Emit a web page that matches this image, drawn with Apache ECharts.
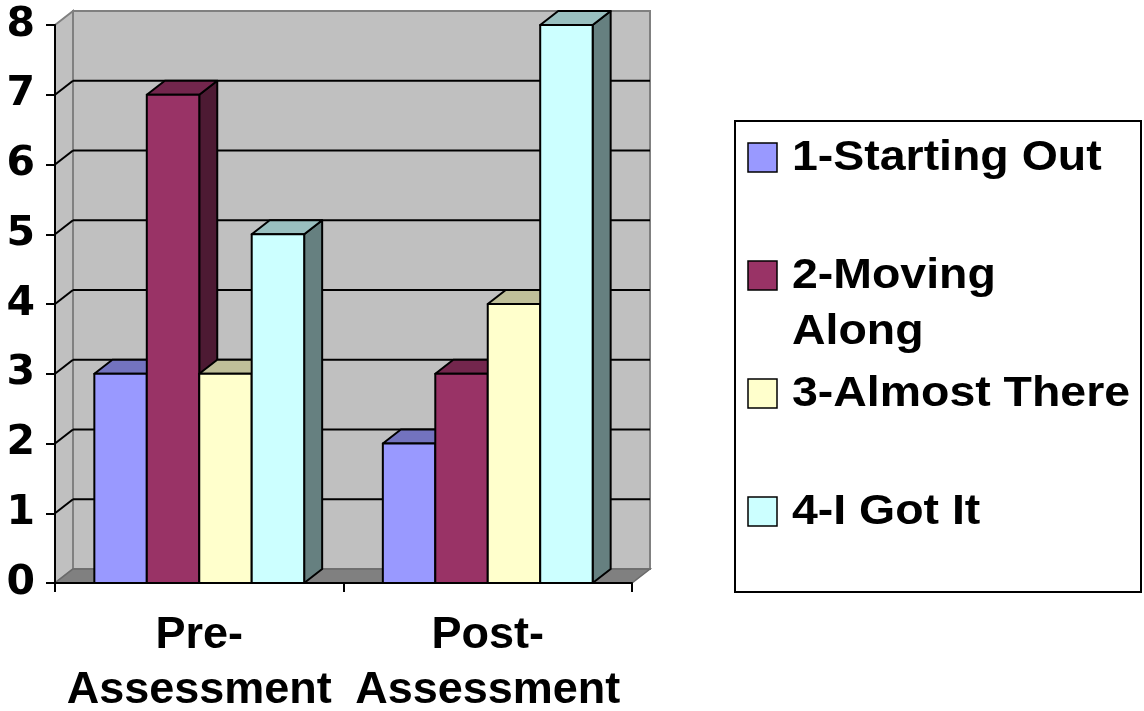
<!DOCTYPE html>
<html>
<head>
<meta charset="utf-8">
<script src="https://cdn.jsdelivr.net/npm/echarts@6/dist/echarts.min.js"></script>
<style>
html,body{margin:0;padding:0;background:#fff;}
#chart{width:1144px;height:711px;}
</style>
</head>
<body>
<div id="chart"></div>
<script>
const categories = ['Pre-\nAssessment', 'Post-\nAssessment'];
const seriesNames = ['1-Starting Out', '2-Moving\nAlong', '3-Almost There', '4-I Got It'];
const startingOut = [3, 2];
const movingAlong = [7, 3];
const almostThere = [3, 4];
const iGotIt = [5, 8];
const yTicks = [0, 1, 2, 3, 4, 5, 6, 7, 8];
const colors = ['#9999ff', '#993366', '#ffffcc', '#ccffff'];

const seriesValues = [startingOut, movingAlong, almostThere, iGotIt];
const DX = 18, DY = -14;
const GAP = 1.5;

function shade(hex, f) {
  const n = parseInt(hex.slice(1), 16);
  const r = Math.round(((n >> 16) & 255) * f);
  const g = Math.round(((n >> 8) & 255) * f);
  const b = Math.round((n & 255) * f);
  return 'rgb(' + r + ',' + g + ',' + b + ')';
}

const chart = echarts.init(document.getElementById('chart'), null, {renderer: 'canvas'});

const bgSeries = {
  type: 'custom',
  name: 'walls',
  silent: true,
  z: 1,
  data: [[0, 0]],
  renderItem: function (params, api) {
    const cs = params.coordSys;
    const x = cs.x, y = cs.y, w = cs.width, h = cs.height;
    const children = [];
    children.push({type: 'rect', shape: {x: x + DX, y: y + DY, width: w, height: h},
      style: {fill: '#c0c0c0', stroke: '#808080', lineWidth: 2}});
    children.push({type: 'polygon', shape: {points: [[x, y], [x + DX, y + DY], [x + DX, y + h + DY], [x, y + h]]},
      style: {fill: '#c0c0c0', stroke: '#808080', lineWidth: 2}});
    children.push({type: 'polygon', shape: {points: [[x, y + h], [x + w, y + h], [x + w + DX, y + h + DY], [x + DX, y + h + DY]]},
      style: {fill: '#808080', stroke: '#6a6a6a', lineWidth: 1.5}});
    for (let k = 1; k < yTicks.length - 1; k++) {
      const yy = api.coord([0, yTicks[k]])[1];
      children.push({type: 'line', shape: {x1: x + DX, y1: yy + DY, x2: x + w + DX, y2: yy + DY},
        style: {stroke: '#000', lineWidth: 2}});
      children.push({type: 'line', shape: {x1: x, y1: yy, x2: x + DX, y2: yy + DY},
        style: {stroke: '#000', lineWidth: 2}});
    }
    return {type: 'group', children: children};
  }
};

const barSeries = seriesValues.map(function (vals, i) {
  return {
    type: 'custom',
    name: seriesNames[i],
    z: 2,
    data: vals.map(function (v, j) { return [j, v]; }),
    renderItem: function (params, api) {
      const top = api.coord([api.value(0), api.value(1)]);
      const base = api.coord([api.value(0), 0]);
      const catW = api.size([1, 0])[0];
      const n = seriesValues.length;
      const bw = catW / (n + GAP);
      const left = top[0] - n * bw / 2 + i * bw;
      const t = top[1], b = base[1];
      const st = {stroke: '#000', lineWidth: 2, lineJoin: 'round'};
      return {type: 'group', children: [
        {type: 'polygon', shape: {points: [[left + bw, t], [left + bw + DX, t + DY], [left + bw + DX, b + DY], [left + bw, b]]},
          style: Object.assign({fill: shade(colors[i], 0.5)}, st)},
        {type: 'polygon', shape: {points: [[left, t], [left + DX, t + DY], [left + bw + DX, t + DY], [left + bw, t]]},
          style: Object.assign({fill: shade(colors[i], 0.75)}, st)},
        {type: 'rect', shape: {x: left, y: t, width: bw, height: b - t},
          style: Object.assign({fill: colors[i]}, st)}
      ]};
    }
  };
});

// legend built as graphics
const legendBox = {left: 735, top: 121, width: 406, height: 471};
const legendRows = [158, 276, 394, 512];
const legendGraphics = [{
  type: 'rect', shape: {x: legendBox.left, y: legendBox.top, width: legendBox.width, height: legendBox.height},
  style: {fill: '#fff', stroke: '#000', lineWidth: 2}, z: 100
}];
seriesNames.forEach(function (name, i) {
  const cy = legendRows[i];
  legendGraphics.push({type: 'rect', shape: {x: 748, y: cy - 15, width: 29, height: 29},
    style: {fill: colors[i], stroke: '#000', lineWidth: 1.5}, z: 101});
  name.split('\n').forEach(function (line, li) {
    legendGraphics.push({type: 'text', x: 792, y: cy + li * 56, scaleX: 1.08, z: 101,
      style: {text: line, fill: '#000', font: 'bold 43px "Liberation Sans", Arial, sans-serif',
        verticalAlign: 'middle', align: 'left'}});
  });
});

chart.setOption({
  animation: false,
  backgroundColor: '#fff',
  grid: {left: 55, right: 512, top: 25, bottom: 128, containLabel: false, outerBoundsMode: 'none'},
  xAxis: {
    type: 'category', data: categories, z: 10,
    axisLine: {show: true, lineStyle: {color: '#000', width: 2}},
    axisTick: {show: true, length: 9, interval: 0, lineStyle: {color: '#000', width: 2}},
    axisLabel: {interval: 0, margin: 25, color: '#000', fontSize: 45, fontWeight: 'bold',
      fontFamily: '"Liberation Sans", Arial, sans-serif', lineHeight: 55},
    splitLine: {show: false}
  },
  yAxis: {
    type: 'value', min: yTicks[0], max: yTicks[yTicks.length - 1], interval: 1, z: 10,
    axisLine: {show: true, lineStyle: {color: '#000', width: 2}},
    axisTick: {show: true, length: 9, lineStyle: {color: '#000', width: 2}},
    axisLabel: {margin: 20, color: '#000', fontSize: 41, fontWeight: 'bold',
      fontFamily: '"DejaVu Sans", sans-serif'},
    splitLine: {show: false}
  },
  graphic: legendGraphics,
  series: [bgSeries].concat(barSeries)
});
</script>
</body>
</html>
